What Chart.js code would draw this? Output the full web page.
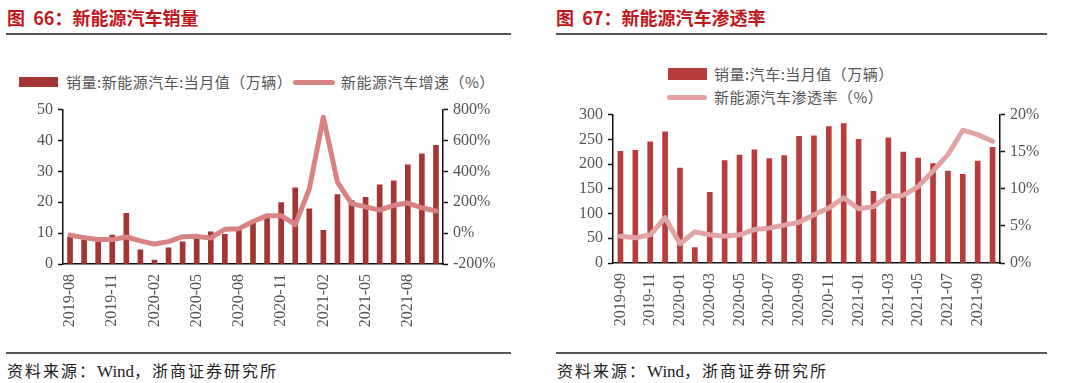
<!DOCTYPE html>
<html>
<head>
<meta charset="utf-8">
<script src="https://cdn.jsdelivr.net/npm/chart.js@4.4.1/dist/chart.umd.min.js"></script>
<style>
  html,body{margin:0;padding:0;background:#fff;}
  body{width:1080px;height:383px;position:relative;overflow:hidden;font-family:"Noto Sans CJK SC","Noto Sans",sans-serif;}
  .title{position:absolute;top:5px;font-size:18px;line-height:24px;font-weight:bold;color:#c0161c;white-space:nowrap;}
  .rule{position:absolute;height:1.5px;background:#555;}
  .leg{position:absolute;font-size:15px;line-height:20px;color:#555;white-space:nowrap;letter-spacing:0.5px;}
  .src{position:absolute;top:359px;font-size:16px;line-height:22px;color:#222;white-space:nowrap;letter-spacing:2px;}
  .src .w{font-family:"Liberation Serif",serif;letter-spacing:0;font-size:17px;}
  .sw{position:absolute;}
  .cv{position:absolute;}
</style>
</head>
<body>
<div class="title" style="left:7px;">图&nbsp; 66：新能源汽车销量</div>
<div class="title" style="left:556px;">图&nbsp; 67：新能源汽车渗透率</div>
<div class="rule" style="left:6px;width:505px;top:33px;"></div>
<div class="rule" style="left:556px;width:491px;top:33px;"></div>

<div class="sw" style="left:19px;top:77px;width:39px;height:10px;background:#a33535;"></div>
<div class="leg" style="left:66px;top:72px;">销量:新能源汽车:当月值（万辆）</div>
<div class="sw" style="left:293px;top:80px;width:42px;height:5px;border-radius:2.5px;background:#d98282;"></div>
<div class="leg" style="left:341px;top:72px;">新能源汽车增速（%）</div>

<div class="sw" style="left:668px;top:68px;width:39px;height:12px;background:#b83c3c;"></div>
<div class="leg" style="left:714px;top:64px;">销量:汽车:当月值（万辆）</div>
<div class="sw" style="left:667px;top:95px;width:40px;height:5px;border-radius:2.5px;background:#e2a3a3;"></div>
<div class="leg" style="left:714px;top:87px;">新能源汽车渗透率（%）</div>

<canvas id="c1" class="cv" width="540" height="245" style="left:0;top:95px;"></canvas>
<canvas id="c2" class="cv" width="540" height="245" style="left:540px;top:100px;"></canvas>

<div class="rule" style="left:6px;width:505px;top:352px;"></div>
<div class="rule" style="left:556px;width:491px;top:352px;"></div>
<div class="src" style="left:7px;">资料来源：<span class="w">Wind</span>，浙商证券研究所</div>
<div class="src" style="left:557px;">资料来源：<span class="w">Wind</span>，浙商证券研究所</div>

<script>
// ---- Chart 66 data ----
const months66 = ["2019-08","2019-09","2019-10","2019-11","2019-12","2020-01","2020-02","2020-03","2020-04","2020-05","2020-06","2020-07","2020-08","2020-09","2020-10","2020-11","2020-12","2021-01","2021-02","2021-03","2021-04","2021-05","2021-06","2021-07","2021-08","2021-09","2021-10"];
const nevSales = [8.6,7.9,7.3,9.4,16.4,4.6,1.3,5.2,7.2,8.6,10.4,9.6,10.9,13.3,15.1,19.9,24.7,17.9,10.9,22.5,20.5,21.6,25.6,26.9,32.1,35.7,38.4];
const nevGrowth = [-13,-29,-42,-42,-25,-50,-71,-55,-23,-21,-31,25,29,75,113,113,55,285,750,331,191,170,149,180,195,164,143];
const ticksLeft66 = [0,10,20,30,40,50];
const ticksRight66 = [-200,0,200,400,600,800];

// ---- Chart 67 data ----
const months67 = ["2019-09","2019-10","2019-11","2019-12","2020-01","2020-02","2020-03","2020-04","2020-05","2020-06","2020-07","2020-08","2020-09","2020-10","2020-11","2020-12","2021-01","2021-02","2021-03","2021-04","2021-05","2021-06","2021-07","2021-08","2021-09","2021-10"];
const autoSales = [226,228,245,265,192,31,143,207,218,229,211,217,256,257,276,282,250,145,253,224,212,201,186,179,206,234];
const nevPenetration = [3.6,3.4,3.8,6.1,2.6,4.2,3.8,3.6,3.8,4.5,4.7,5.1,5.5,6.5,7.4,8.8,7.3,7.6,9.0,9.1,10.3,12.4,14.6,17.9,17.3,16.4];
const ticksLeft67 = [0,50,100,150,200,250,300];
const ticksRight67 = [0,5,10,15,20];

const tickFont = {family:"'Liberation Serif', 'DejaVu Serif', serif", size:16};
const tickColor = '#555';

function yAxis(pos, min, max, step, width, fmt){
  return {
    position: pos, min: min, max: max,
    afterFit: s => { s.width = width; },
    ticks: {stepSize: step, font: tickFont, color: tickColor, padding: 5, callback: fmt},
    grid: {drawOnChartArea:false, drawTicks:true, tickLength:5, tickColor:'#111', tickWidth:1.5},
    border: {display:true, color:'#111', width:1.5}
  };
}
function xAxis(height, every, labels){
  return {
    offset: true,
    afterFit: s => { s.height = height; },
    ticks: {autoSkip:false, minRotation:90, maxRotation:90, font: tickFont, color: tickColor, padding: 10,
      callback: (v, i) => (i % every === 0 ? labels[i] : '')},
    grid: {drawOnChartArea:false, drawTicks:false},
    border: {display:true, color:'#111', width:1.5}
  };
}

new Chart(document.getElementById('c1'), {
  type: 'bar',
  data: {
    labels: months66,
    datasets: [
      {type:'line', label:'新能源汽车增速（%）', data: nevGrowth, yAxisID:'y1', borderColor:'#d98282', borderWidth:5,
       pointRadius:0, tension:0, fill:false, order:0, borderJoinStyle:'round', borderCapStyle:'round'},
      {type:'bar', label:'销量:新能源汽车:当月值（万辆）', data: nevSales, yAxisID:'y', backgroundColor:'#a33535',
       barThickness:5, order:1}
    ]
  },
  options: {
    responsive:false, devicePixelRatio:1, animation:false,
    layout: {padding:{top:10, left:0, right:0, bottom:0}},
    plugins: {legend:{display:false}, tooltip:{enabled:false}},
    scales: {
      x: xAxis(76, 3, months66),
      y: yAxis('left', ticksLeft66[0], ticksLeft66[ticksLeft66.length-1], 10, 63, v => v),
      y1: yAxis('right', ticksRight66[0], ticksRight66[ticksRight66.length-1], 200, 97, v => v + '%')
    }
  }
});

new Chart(document.getElementById('c2'), {
  type: 'bar',
  data: {
    labels: months67,
    datasets: [
      {type:'line', label:'新能源汽车渗透率（%）', data: nevPenetration, yAxisID:'y1', borderColor:'#e2a3a3', borderWidth:5,
       pointRadius:0, tension:0, fill:false, order:0, borderJoinStyle:'round', borderCapStyle:'round'},
      {type:'bar', label:'销量:汽车:当月值（万辆）', data: autoSales, yAxisID:'y', backgroundColor:'#b83c3c',
       barThickness:5, order:1}
    ]
  },
  options: {
    responsive:false, devicePixelRatio:1, animation:false,
    layout: {padding:{top:11, left:0, right:0, bottom:0}},
    plugins: {legend:{display:false}, tooltip:{enabled:false}},
    scales: {
      x: xAxis(82, 2, months67),
      y: yAxis('left', ticksLeft67[0], ticksLeft67[ticksLeft67.length-1], 50, 73, v => v),
      y1: yAxis('right', ticksRight67[0], ticksRight67[ticksRight67.length-1], 5, 80, v => v + '%')
    }
  }
});
</script>
</body>
</html>
